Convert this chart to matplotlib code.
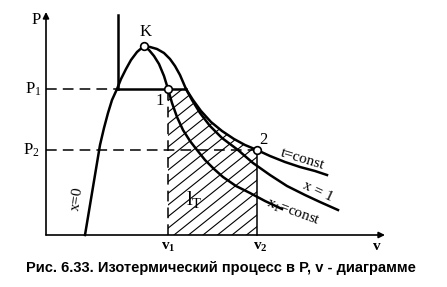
import matplotlib.pyplot as plt
import numpy as np
from matplotlib.patches import Polygon

plt.rcParams['mathtext.fontset'] = 'custom'
plt.rcParams['mathtext.rm'] = 'Liberation Serif'
plt.rcParams['mathtext.it'] = 'Liberation Serif:italic'
plt.rcParams['mathtext.bf'] = 'Liberation Serif:bold'

# key states (v, P) in chart units
P1 = 146
P2 = 85
v1 = 122
v2 = 211
K = (98, 189)

# saturated liquid line x = 0
liq_v = [39, 44, 49, 54, 58, 62, 66, 71, 75, 80, 85, 91, 98]
liq_P = [0, 30, 60, 90, 107, 122, 135, 146, 156, 166, 175, 183, 189]

# saturated vapour line x = 1 (above and below P1)
vap_v = [98, 104, 111, 118, 124, 129, 134, 137, 140, 146, 154, 164, 176, 192,
         207, 224, 241, 259, 274, 292]
vap_P = [189, 188, 186, 182, 176, 169, 160, 153, 146, 135, 122, 109, 97, 85,
         72, 60, 49, 40, 33, 25]

# isotherm t = const (liquid part, boiling part, superheated part)
iso_liq_v = [72, 72]
iso_liq_P = [146, 220]
iso_v = [140, 147, 155, 165, 176, 188, 199, 211, 224, 239, 254, 269, 281]
iso_P = [146, 135, 124, 113, 104, 96, 90, 85, 79, 73, 68, 64, 60]

# line of constant dryness x1
x1_v = [98, 103, 108, 113, 118, 122, 126, 131, 137, 144, 151, 159, 168, 177,
        190, 204, 219, 236]
x1_P = [189, 185, 179, 171, 159, 146, 132, 118, 105, 94, 85, 75, 66, 58,
        49, 42, 34, 26]

fig = plt.figure(figsize=(4.47, 2.87), dpi=100)
ax = fig.add_axes([0, 0, 1, 1])
ax.set_xlim(-46, 401)
ax.set_ylim(-52, 235)
ax.axis('off')

lw = 1.8
# axes with arrows
ax.annotate('', xy=(0, 223), xytext=(0, 0),
            arrowprops=dict(arrowstyle='-|>', lw=1.2, color='black',
                            mutation_scale=9, shrinkA=0, shrinkB=0))
ax.annotate('', xy=(339, 0), xytext=(0, 0),
            arrowprops=dict(arrowstyle='-|>', lw=1.2, color='black',
                            mutation_scale=9, shrinkA=0, shrinkB=0))

# hatched work area l_T
area_v = [v1, v1, 140] + [v for v in iso_v if v <= v2] + [v2]
area_P = [0, P1, P1] + [p for v, p in zip(iso_v, iso_P) if v <= v2] + [0]
poly = Polygon(list(zip(area_v, area_P)), closed=True, fill=False, lw=0)
ax.add_patch(poly)
for c in np.arange(-400, 400, 14.5):
    xs = np.array([v1 - 10, v2 + 10])
    ln, = ax.plot(xs, 0.8 * (xs - c - v1), color='black', lw=0.8)
    ln.set_clip_path(poly)

# dashed guides
dash = dict(color='black', lw=1.1, dashes=(7, 4))
ax.plot([0, 71], [P1, P1], **dash)
ax.plot([0, v2], [P2, P2], **dash)
ax.plot([v1, v1], [0, P1], **dash)
ax.plot([v2, v2], [0, P2], color='black', lw=1.1)

# curves
ax.plot(liq_v, liq_P, color='black', lw=lw)
ax.plot(vap_v, vap_P, color='black', lw=lw)
ax.plot(iso_liq_v, iso_liq_P, color='black', lw=lw)
ax.plot([71, 140], [P1, P1], color='black', lw=lw)
ax.plot(iso_v, iso_P, color='black', lw=lw)
ax.plot(x1_v, x1_P, color='black', lw=lw)

# state points
ax.plot([K[0], v1, v2], [K[1], P1, P2], 'o', ms=5.5, mfc='white',
        mec='black', mew=1.2)

serif = dict(family='Liberation Serif', color='black')
ax.text(-10, 215, 'P', fontsize=12, ha='center', va='center', **serif)
ax.text(-4, P1, r'$\mathrm{P}_1$', fontsize=12, ha='right', va='center', **serif)
ax.text(-6, P2, r'$\mathrm{P}_2$', fontsize=12, ha='right', va='center', **serif)
ax.text(100, 203, 'K', fontsize=12, ha='center', va='center', **serif)
ax.text(114, 134, '1', fontsize=12, ha='center', va='center', **serif)
ax.text(217, 95, '2', fontsize=12, ha='center', va='center', **serif)
ax.text(148, 36, r'$\mathrm{l}_\mathrm{T}$', fontsize=15, ha='center',
        va='center', **serif)
ax.text(31, 36, 'x=0', fontsize=11, ha='center', va='center', rotation=82,
        **serif)
ax.text(256, 76, 't=const', fontsize=11, ha='center', va='center',
        rotation=-17, **serif)
ax.text(272, 43, 'x = 1', fontsize=11, ha='center', va='center',
        rotation=-25, **serif)
ax.text(247, 22, r'x$_1$=const', fontsize=11, ha='center', va='center',
        rotation=-20, **serif)
ax.text(v1, -12, r'$\mathbf{v}_\mathbf{1}$', fontsize=11, ha='center',
        va='center', **serif)
ax.text(v2 + 3, -12, r'$\mathbf{v}_\mathbf{2}$', fontsize=11, ha='center',
        va='center', **serif)
ax.text(331, -12, r'$\mathbf{v}$', fontsize=11, ha='center', va='center',
        **serif)

ax.text(175, -33, 'Рис. 6.33. Изотермический процесс в P, v - диаграмме',
        fontsize=10.5, fontweight='bold', family='Liberation Sans',
        ha='center', va='center')

fig.savefig('out.png', dpi=100)
